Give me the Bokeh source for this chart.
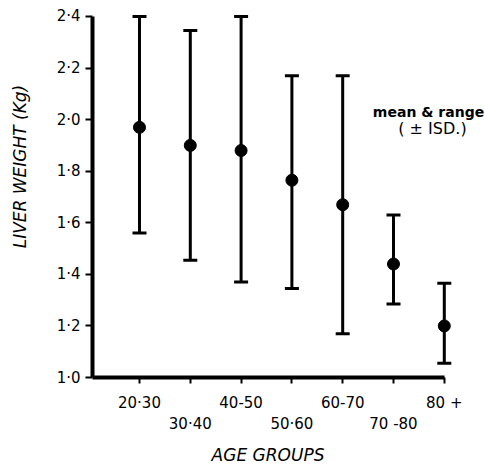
import math
from bokeh.plotting import figure
from bokeh.models import (ColumnDataSource, Whisker, TeeHead, FixedTicker,
                          Range1d, Label)
from bokeh.embed import file_html
from bokeh.resources import INLINE

# ---- data ----
age_groups = ["20·30", "30·40", "40-50", "50·60", "60-70", "70 -80", "80 +"]
positions = [1, 2, 3, 4, 5, 6, 7]
mean_weight = [1.97, 1.90, 1.88, 1.765, 1.67, 1.44, 1.20]
upper_range = [2.40, 2.345, 2.40, 2.17, 2.17, 1.63, 1.365]
lower_range = [1.56, 1.455, 1.37, 1.345, 1.17, 1.285, 1.055]
y_ticks = [1.0, 1.2, 1.4, 1.6, 1.8, 2.0, 2.2, 2.4]
y_tick_labels = ["1·0", "1·2", "1·4", "1·6", "1·8", "2·0", "2·2", "2·4"]

FONT = "DejaVu Sans"
X_AXIS_AT = 0.075   # data x where the vertical axis sits
Y_AXIS_AT = 1.0     # data y where the horizontal axis sits

src = ColumnDataSource(dict(x=positions, mean=mean_weight,
                            upper=upper_range, lower=lower_range))

p = figure(width=485, height=464, output_backend="svg", toolbar_location=None,
           x_range=Range1d(-1.736, 7.811), y_range=Range1d(0.6627, 2.4618),
           min_border_left=0, min_border_right=0,
           min_border_top=0, min_border_bottom=0)
p.grid.visible = False
p.outline_line_color = None
p.background_fill_color = "white"
p.border_fill_color = "white"

# error bars (range)
w = Whisker(source=src, base="x", upper="upper", lower="lower",
            line_width=3, line_color="black",
            upper_head=TeeHead(size=14, line_width=3, line_color="black"),
            lower_head=TeeHead(size=14, line_width=3, line_color="black"))
p.add_layout(w)

# means
p.scatter("x", "mean", source=src, size=12, fill_color="black",
          line_color="black")

# y axis
ya = p.yaxis[0]
ya.fixed_location = X_AXIS_AT
ya.ticker = FixedTicker(ticks=y_ticks)
ya.major_label_overrides = {t: l for t, l in zip(y_ticks, y_tick_labels)}
ya.bounds = (1.0, 2.4)
ya.axis_line_width = 4
ya.axis_line_color = "black"
ya.major_tick_line_width = 2
ya.major_tick_out = 7
ya.major_tick_in = 0
ya.minor_tick_line_color = None
ya.major_label_standoff = 5
ya.major_label_text_font = FONT
ya.major_label_text_font_size = "15px"
ya.major_label_text_color = "black"

# x axis (staggered labels)
xa = p.xaxis[0]
xa.fixed_location = Y_AXIS_AT
xa.ticker = FixedTicker(ticks=positions)
xa.major_label_overrides = {pos: (lab if i % 2 == 0 else "\n" + lab)
                            for i, (pos, lab) in enumerate(zip(positions, age_groups))}
xa.bounds = (X_AXIS_AT, 7.0)
xa.axis_line_width = 4
xa.axis_line_color = "black"
xa.major_tick_line_width = 2
xa.major_tick_out = 6
xa.major_tick_in = 0
xa.minor_tick_line_color = None
xa.major_label_standoff = 10
xa.major_label_text_font = FONT
xa.major_label_text_font_size = "15px"
xa.major_label_text_color = "black"

# axis titles
p.add_layout(Label(x=-1.343, y=1.818, text="LIVER WEIGHT (Kg)",
                   angle=math.pi / 2, text_align="center",
                   text_baseline="middle", text_font=FONT,
                   text_font_style="italic", text_font_size="17px",
                   text_color="black"))
p.add_layout(Label(x=3.53, y=0.7014, text="AGE GROUPS",
                   text_align="center", text_baseline="middle",
                   text_font=FONT, text_font_style="italic",
                   text_font_size="17px", text_color="black"))

# legend note
p.add_layout(Label(x=6.689, y=2.031, text="mean & range",
                   text_align="center", text_baseline="middle",
                   text_font=FONT, text_font_style="bold",
                   text_font_size="14px", text_color="black"))
p.add_layout(Label(x=6.767, y=1.9655, text="( ± ISD.)",
                   text_align="center", text_baseline="middle",
                   text_font=FONT, text_font_size="16px",
                   text_color="black"))

open("out.html", "w").write(file_html(p, INLINE))
